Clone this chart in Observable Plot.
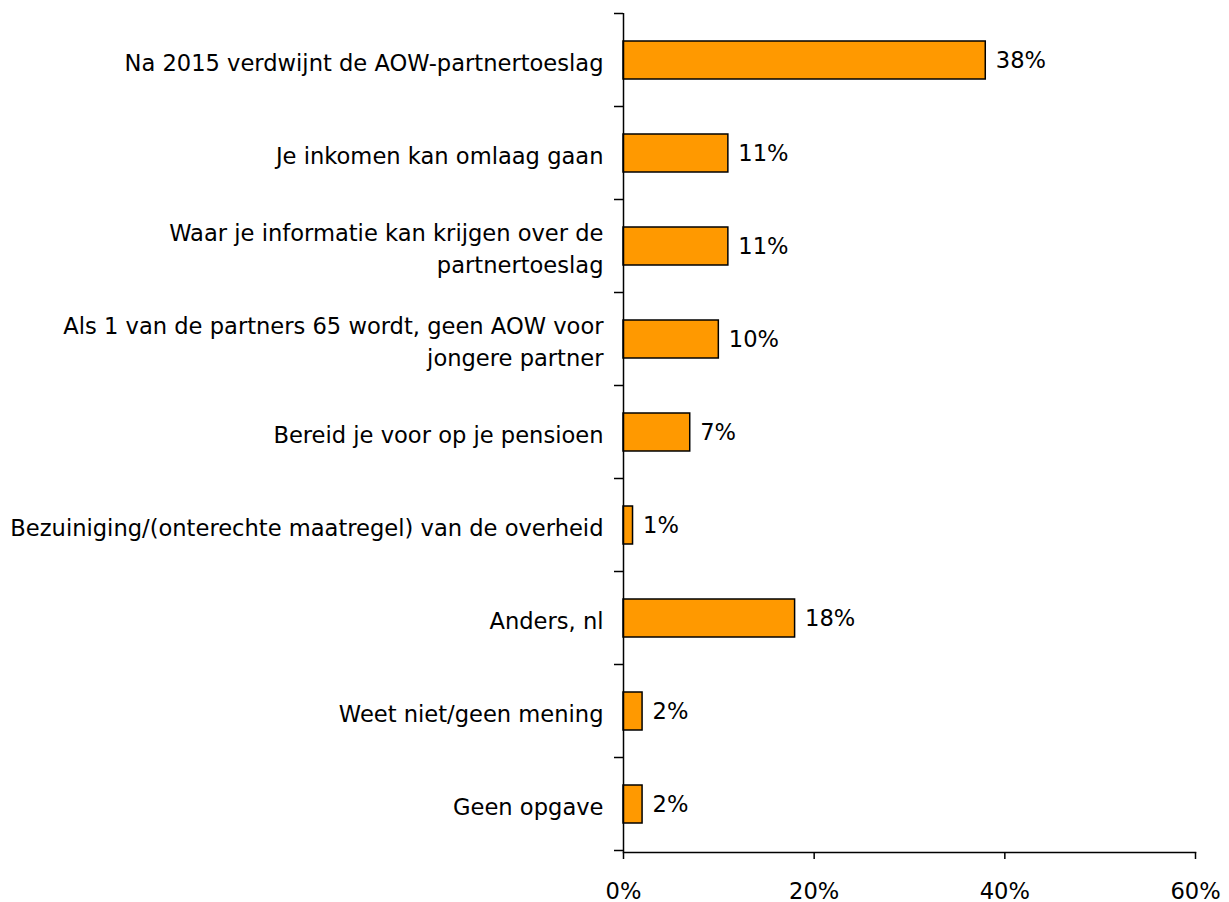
<!DOCTYPE html>
<html><head><meta charset="utf-8">
<script src="https://cdn.jsdelivr.net/npm/d3@7"></script>
<script src="https://cdn.jsdelivr.net/npm/@observablehq/plot@0.6"></script>
<style>
html,body{margin:0;padding:0;background:#fff;overflow:hidden}
</style></head><body><div id="chart"></div>
<script>
const categories = [
  "Na 2015 verdwijnt de AOW-partnertoeslag",
  "Je inkomen kan omlaag gaan",
  "Waar je informatie kan krijgen over de\npartnertoeslag",
  "Als 1 van de partners 65 wordt, geen AOW voor\njongere partner",
  "Bereid je voor op je pensioen",
  "Bezuiniging/(onterechte maatregel) van de overheid",
  "Anders, nl",
  "Weet niet/geen mening",
  "Geen opgave"
];
const values = [38, 11, 11, 10, 7, 1, 18, 2, 2];
const xTicks = [0, 20, 40, 60];
const data = categories.map((c, i) => ({category: c, value: values[i]}));
const FONT = "DejaVu Sans";
const FS = 22.6;

const plot = Plot.plot({
  width: 1229, height: 902,
  marginLeft: 623, marginRight: 34, marginTop: 13, marginBottom: 50,
  style: {fontFamily: FONT, fontSize: FS + "px", color: "#000", background: "#fff", overflow: "visible"},
  x: {domain: [0, 60]},
  y: {domain: categories, paddingInner: 0.59, paddingOuter: 0.295, align: 0.5},
  marks: [
    Plot.barX(data, {x: "value", y: "category", fill: "#FF9900", stroke: "#000", strokeWidth: 1.5}),
    Plot.text(data, {x: "value", y: "category", text: d => d.value + "%", textAnchor: "start", dx: 10, fontSize: FS}),
    Plot.axisY({tickSize: 0, tickPadding: 20, lineHeight: 1.42, fontSize: FS, label: null}),
    Plot.axisX({ticks: xTicks, tickFormat: d => d + "%", tickSize: 7, tickPadding: 23, fontSize: FS, label: null, anchor: "bottom", stroke: "#000", strokeWidth: 1.5}),
    Plot.ruleX([0], {stroke: "#000", strokeWidth: 1.5}),
    Plot.frame({anchor: "bottom", stroke: "#000", strokeWidth: 1.5})
  ]
});
document.getElementById("chart").appendChild(plot);

// boundary tick marks on the category axis, derived from the band scale
const ys = plot.scale("y");
const xs = plot.scale("x");
const x0 = xs.apply(0);
const gap = (ys.step - ys.bandwidth) / 2;
const bounds = categories.map(c => ys.apply(c) - gap).concat([ys.apply(categories[categories.length - 1]) + ys.bandwidth + gap]);
d3.select(plot).append("g")
  .selectAll("line").data(bounds).join("line")
  .attr("x1", x0 - 9).attr("x2", x0).attr("y1", d => d).attr("y2", d => d)
  .attr("stroke", "#000").attr("stroke-width", 1.5);
</script>
</body></html>
